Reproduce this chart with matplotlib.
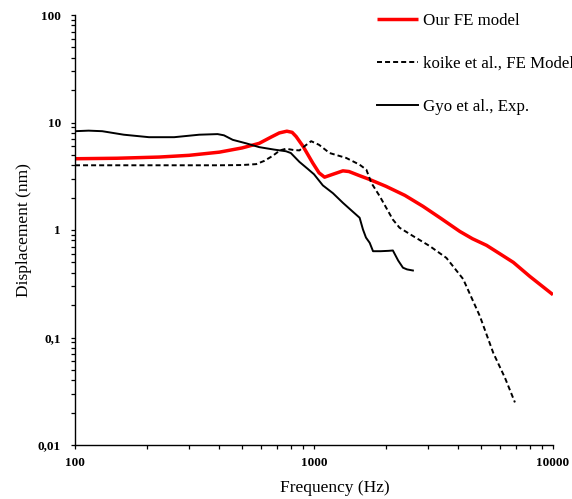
import matplotlib
matplotlib.use("Agg")
import matplotlib.pyplot as plt
from matplotlib.ticker import FixedLocator, LogLocator, NullFormatter, FixedFormatter

plt.rcParams['font.family'] = ['Liberation Serif', 'DejaVu Serif']
plt.rcParams['lines.scale_dashes'] = False

# Our FE model
f_ours = [100, 150, 225, 300, 402, 500, 590, 660, 716, 770, 810, 842, 900, 988, 1050, 1107,
          1200, 1321, 1400, 1552, 1710, 2000, 2400, 2858, 3400, 4074, 4600, 5272, 6000, 6823, 8000, 10000]
d_ours = [4.6, 4.65, 4.77, 4.95, 5.3, 5.8, 6.4, 7.3, 8.0, 8.3, 8.1, 7.4, 6.0, 4.2, 3.4, 3.1,
          3.3, 3.55, 3.5, 3.2, 2.95, 2.55, 2.1, 1.66, 1.28, 0.97, 0.83, 0.72, 0.6, 0.5, 0.37, 0.25]

# koike et al., FE Model
f_koike = [100, 200, 300, 400, 500, 573, 620, 672, 720, 764, 820, 869, 920, 973, 1050, 1162,
           1364, 1552, 1656, 1738, 1884, 2138, 2280, 2593, 3046, 3581, 4207, 4943, 5623, 6300, 6929]
d_koike = [4.0, 4.0, 4.0, 4.0, 4.02, 4.1, 4.4, 4.9, 5.5, 5.7, 5.55, 5.5, 6.1, 6.7, 6.2, 5.2,
           4.68, 4.05, 3.64, 2.74, 2.06, 1.25, 1.05, 0.88, 0.71, 0.55, 0.35, 0.158, 0.072, 0.042, 0.0249]

# Gyo et al., Exp.
f_gyo = [100, 114, 130, 160, 204, 260, 331, 395, 420, 457, 520, 590, 680, 764, 800, 869, 942,
         1000, 1089, 1200, 1321, 1420, 1552, 1603, 1650, 1710, 1766, 1900, 2050, 2138, 2250, 2356, 2450, 2593]
d_gyo = [8.3, 8.4, 8.3, 7.7, 7.3, 7.3, 7.7, 7.8, 7.6, 6.9, 6.4, 5.9, 5.6, 5.4, 5.2, 4.3, 3.7,
         3.3, 2.6, 2.2, 1.79, 1.55, 1.3, 1.01, 0.85, 0.76, 0.635, 0.635, 0.64, 0.645, 0.52, 0.446, 0.43, 0.42]

x_ticks = [100, 1000, 10000]
x_labels = ['100', '1000', '10000']
y_ticks = [0.01, 0.1, 1, 10, 100]
y_labels = ['0,01', '0,1', '1', '10', '100']

fig = plt.figure(figsize=(5.72, 4.99), dpi=100)
ax = fig.add_axes([75/572, 1-445/499, (553-75)/572, (445-15)/499])

ax.plot(f_ours, d_ours, color='#ff0000', lw=2.5, label='Our FE model', solid_capstyle='butt')
ax.plot(f_koike, d_koike, color='black', lw=1.4, linestyle=(0, (3.6, 2.2)), label='koike et al., FE Model')
ax.plot(f_gyo, d_gyo, color='black', lw=1.4, label='Gyo et al., Exp.')

ax.set_xscale('log')
ax.set_yscale('log')
ax.set_xlim(100, 10000)
ax.set_ylim(0.01, 100)

ax.xaxis.set_major_locator(FixedLocator(x_ticks))
ax.xaxis.set_major_formatter(FixedFormatter(x_labels))
ax.yaxis.set_major_locator(FixedLocator(y_ticks))
ax.yaxis.set_major_formatter(FixedFormatter(y_labels))
ax.xaxis.set_minor_locator(LogLocator(base=10, subs=range(2, 10), numticks=20))
ax.yaxis.set_minor_locator(LogLocator(base=10, subs=range(2, 10), numticks=20))
ax.xaxis.set_minor_formatter(NullFormatter())
ax.yaxis.set_minor_formatter(NullFormatter())

for s in ['top', 'right']:
    ax.spines[s].set_visible(False)
for s in ['left', 'bottom']:
    ax.spines[s].set_linewidth(1.0)

ax.tick_params(which='both', direction='out', length=3, width=0.9, color='black')
ax.tick_params(axis='x', which='major', pad=6)
ax.tick_params(axis='y', which='major', pad=7)
for lab in ax.get_xticklabels() + ax.get_yticklabels():
    lab.set_fontweight('bold')
    lab.set_fontsize(9.5)

ax.set_xlabel('Frequency (Hz)', fontsize=12.5)
ax.set_ylabel('Displacement (nm)', fontsize=12.5)
ax.xaxis.set_label_coords((335-75)/478, -(480-445)/430)
ax.yaxis.set_label_coords(-(75-32)/478, 0.5)

leg = fig.legend(loc='upper left', bbox_to_anchor=(377/572, 1-13/499), frameon=False,
                 fontsize=12.2, handlelength=2.4, handletextpad=0.3, labelspacing=1.6,
                 borderpad=0, borderaxespad=0)

fig.savefig('out.png', dpi=100)
